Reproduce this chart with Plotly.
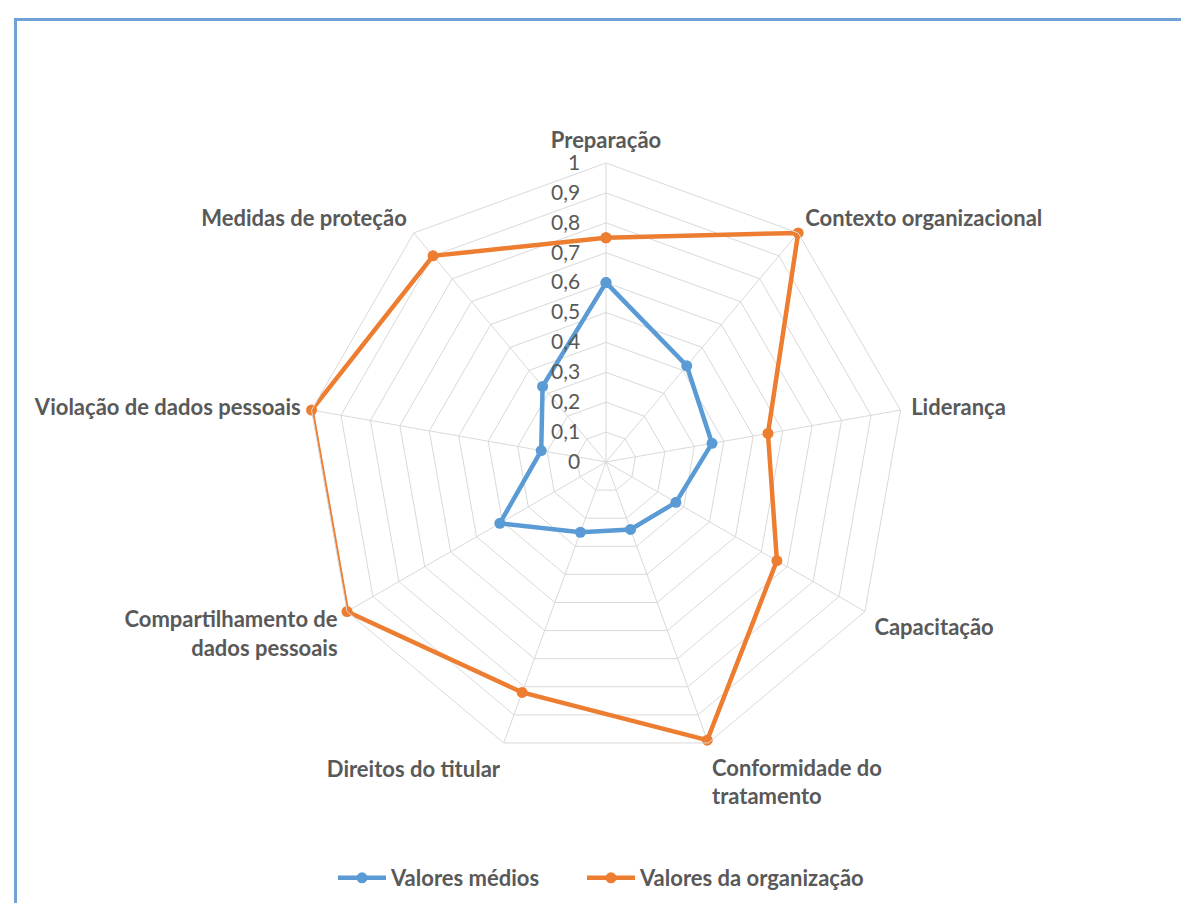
import plotly.graph_objects as go

categories = [
    "Preparação",
    "Contexto organizacional",
    "Liderança",
    "Capacitação",
    "Conformidade do<br>tratamento",
    "Direitos do titular",
    "Compartilhamento de<br>dados pessoais",
    "Violação de dados pessoais",
    "Medidas de proteção",
]
valores_medios = [0.60, 0.42, 0.36, 0.27, 0.24, 0.25, 0.41, 0.22, 0.33]
valores_organizacao = [0.75, 1.00, 0.55, 0.66, 0.99, 0.82, 1.00, 1.00, 0.90]
tick_vals = [0, 0.1, 0.2, 0.3, 0.4, 0.5, 0.6, 0.7, 0.8, 0.9, 1]
tick_text = ["0", "0,1", "0,2", "0,3", "0,4", "0,5", "0,6", "0,7", "0,8", "0,9", "1"]

BLUE = "#5B9BD5"
ORANGE = "#ED7D31"
GRID = "#D9D9D9"
TEXT = "#595959"
FONT = "Lato, Carlito, Calibri, sans-serif"

fig = go.Figure()
for name, vals, col, lg in [
    ("Valores médios", valores_medios, BLUE, "legend"),
    ("Valores da organização", valores_organizacao, ORANGE, "legend2"),
]:
    fig.add_trace(go.Scatterpolar(
        r=vals + vals[:1],
        theta=categories + categories[:1],
        mode="lines+markers",
        name=name,
        legend=lg,
        showlegend=True,
        line=dict(color=col, width=4.5),
        marker=dict(color=col, size=11),
    ))

W, H = 1189, 903
cx, cy, R = 598, 454, 299
legend_style = dict(
    orientation="h", xanchor="left", y=1 - 870 / H, yanchor="middle",
    font=dict(size=22, color=TEXT, family=FONT, weight="bold"),
    itemwidth=48, bgcolor="rgba(0,0,0,0)",
)
fig.update_layout(
    width=W, height=H,
    showlegend=True,
    margin=dict(l=0, r=0, t=0, b=0),
    paper_bgcolor="white",
    font=dict(family=FONT, color=TEXT),
    polar=dict(
        domain=dict(x=[(cx - R) / W, (cx + R) / W], y=[1 - (cy + R) / H, 1 - (cy - R) / H]),
        bgcolor="white",
        gridshape="linear",
        angularaxis=dict(
            direction="clockwise", rotation=90,
            gridcolor=GRID, linecolor=GRID, linewidth=1,
            showline=True, ticks="outside", ticklen=6, tickcolor="rgba(0,0,0,0)",
            tickfont=dict(size=22, color=TEXT, family=FONT, weight="bold"),
        ),
        radialaxis=dict(
            range=[0, 1], angle=90, tickangle=90, side="counterclockwise",
            tickvals=tick_vals, ticktext=tick_text,
            gridcolor=GRID, showline=False,
            ticks="outside", ticklen=18, tickcolor="rgba(0,0,0,0)",
            tickfont=dict(size=21, color=TEXT, family=FONT),
        ),
    ),
    legend=dict(legend_style, x=325 / W),
    legend2=dict(legend_style, x=574 / W),
    shapes=[dict(
        type="rect", xref="paper", yref="paper",
        x0=7.5 / W, x1=1.05, y0=-0.05, y1=1 - 11.5 / H,
        line=dict(color="#6FA3D8", width=3),
    )],
)

fig.write_html("out.html")
